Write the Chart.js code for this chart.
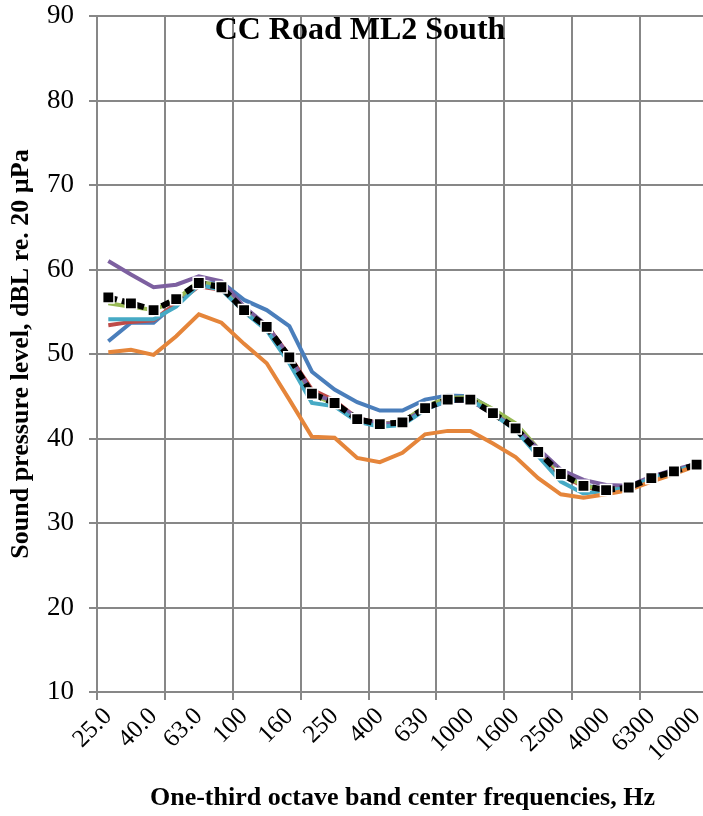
<!DOCTYPE html>
<html>
<head>
<meta charset="utf-8">
<script src="https://cdn.jsdelivr.net/npm/chart.js@4/dist/chart.umd.min.js"></script>
<style>
  html, body { margin: 0; padding: 0; background: #fff; overflow: hidden; }
  #wrap { width: 720px; height: 816px; position: relative; }
</style>
</head>
<body>
<div id="wrap"><canvas id="chart" width="720" height="816"></canvas></div>
<script>
// one-third octave bands
const bands = ['25.0', '31.5', '40.0', '50.0', '63.0', '80.0', '100', '125', '160', '200', '250', '315', '400',
    '500', '630', '800', '1000', '1250', '1600', '2000', '2500', '3150', '4000', '5000', '6300', '8000', '10000'];

const seriesBlue   = [51.5, 53.7, 53.7, 56.0, 58.2, 58.5, 56.4, 55.2, 53.3, 47.9, 45.8, 44.3, 43.3, 43.3, 44.6, 45.1, 45.0, 43.4, 41.5, 38.6, 35.9, 34.5, 33.9, 34.2, 35.3, 36.1, 36.9];
const seriesRed    = [53.4, 53.8, 54.0, 56.0, 58.0, 57.6, 55.2, 53.4, 49.8, 45.8, 44.5, 42.4, 41.8, 41.9, 43.6, 44.6, 44.6, 43.0, 41.2, 38.3, 35.7, 34.3, 33.8, 34.2, 35.3, 36.1, 36.9];
const seriesGreen  = [56.0, 55.6, 55.2, 56.4, 58.6, 58.0, 55.3, 53.2, 49.4, 45.2, 44.1, 42.3, 41.7, 42.0, 43.8, 44.8, 44.9, 43.5, 41.8, 38.8, 35.9, 34.4, 33.9, 34.2, 35.3, 36.1, 36.9];
const seriesPurple = [61.0, 59.4, 57.9, 58.2, 59.2, 58.6, 55.6, 53.4, 49.7, 45.4, 44.3, 42.4, 41.7, 41.9, 43.5, 44.4, 44.5, 42.9, 41.3, 38.8, 36.3, 35.1, 34.5, 34.4, 35.5, 36.3, 37.0];
const seriesAqua   = [54.1, 54.1, 54.1, 55.6, 58.2, 57.6, 55.0, 52.8, 48.9, 44.2, 43.8, 42.0, 41.4, 41.6, 43.4, 44.5, 44.6, 42.9, 41.0, 37.9, 34.9, 33.5, 33.8, 34.2, 35.3, 36.1, 36.9];
const seriesOrange = [50.2, 50.5, 49.9, 52.1, 54.7, 53.7, 51.2, 48.9, 44.6, 40.2, 40.1, 37.7, 37.2, 38.3, 40.5, 40.9, 40.9, 39.4, 37.8, 35.3, 33.4, 33.0, 33.4, 33.9, 34.9, 35.8, 36.8];
const seriesAvg    = [56.7, 56.0, 55.2, 56.5, 58.4, 57.9, 55.2, 53.2, 49.6, 45.3, 44.2, 42.3, 41.7, 41.9, 43.6, 44.6, 44.6, 43.0, 41.2, 38.4, 35.8, 34.4, 33.9, 34.2, 35.3, 36.1, 36.9];

const yMin = 10, yMax = 90, yStep = 10;
const chartTitle = 'CC Road ML2 South';

const serif = "'Liberation Serif', 'Times New Roman', serif";
const gridGrey = '#878787';

// later series sit on top, like the original spreadsheet chart
function plainLine(data, color, order) {
    return {
        data: data,
        borderColor: color,
        borderWidth: 4,
        pointRadius: 0,
        fill: false,
        tension: 0,
        order: order
    };
}

const titlePlugin = {
    id: 'insideTitle',
    afterDraw(chart) {
        const ctx = chart.ctx;
        ctx.save();
        ctx.font = 'bold 32px ' + serif;
        ctx.fillStyle = '#000';
        ctx.textAlign = 'center';
        ctx.textBaseline = 'alphabetic';
        ctx.fillText(chartTitle, 360, 39);
        ctx.restore();
    }
};

new Chart(document.getElementById('chart').getContext('2d'), {
    type: 'line',
    data: {
        labels: bands,
        datasets: [
            plainLine(seriesBlue, '#4A7EBB', 6),
            plainLine(seriesRed, '#BE4B48', 5),
            plainLine(seriesGreen, '#98B954', 4),
            plainLine(seriesPurple, '#7D60A0', 3),
            plainLine(seriesAqua, '#46AAC5', 2),
            plainLine(seriesOrange, '#E5853A', 1),
            {
                data: seriesAvg,
                borderColor: '#000',
                borderWidth: 6,
                borderDash: [9, 5],
                pointStyle: 'rect',
                pointRadius: 8,
                pointBackgroundColor: '#000',
                pointBorderColor: '#fff',
                pointBorderWidth: 1.5,
                fill: false,
                tension: 0,
                order: 0
            }
        ]
    },
    options: {
        responsive: false,
        animation: false,
        devicePixelRatio: 1,
        layout: { padding: { top: 16, right: 10, left: 0, bottom: 0 } },
        plugins: {
            legend: { display: false },
            tooltip: { enabled: false }
        },
        scales: {
            x: {
                offset: true,
                afterFit: function(scale) { scale.height = 124; },
                grid: {
                    offset: true,
                    lineWidth: 2,
                    color: function(c) {
                        return (c.index !== undefined && c.index % 3 === 0) ? gridGrey : 'rgba(0,0,0,0)';
                    },
                    tickLength: 8
                },
                border: { color: gridGrey, width: 2 },
                ticks: {
                    autoSkip: false,
                    maxRotation: 45,
                    minRotation: 45,
                    color: '#000',
                    font: { family: serif, size: 25 },
                    padding: 2,
                    callback: function(val, i) { return i % 2 === 0 ? bands[i] : ''; }
                },
                title: {
                    display: true,
                    text: 'One-third octave band center frequencies, Hz',
                    color: '#000',
                    font: { family: serif, size: 26, weight: 'bold' },
                    padding: { top: 4, bottom: 2 }
                }
            },
            y: {
                min: yMin,
                max: yMax,
                afterFit: function(scale) {
                    scale.width = 97;
                    scale.paddingTop = 0;
                    scale.paddingBottom = 0;
                },
                grid: { color: gridGrey, lineWidth: 2, tickLength: 8 },
                border: { color: gridGrey, width: 2 },
                ticks: {
                    stepSize: yStep,
                    color: '#000',
                    font: { family: serif, size: 27 },
                    padding: 15
                },
                title: {
                    display: true,
                    text: 'Sound pressure level, dBL re. 20 µPa',
                    color: '#000',
                    font: { family: serif, size: 26, weight: 'bold' },
                    padding: { top: 6, bottom: 2 }
                }
            }
        }
    },
    plugins: [titlePlugin]
});
</script>
</body>
</html>
